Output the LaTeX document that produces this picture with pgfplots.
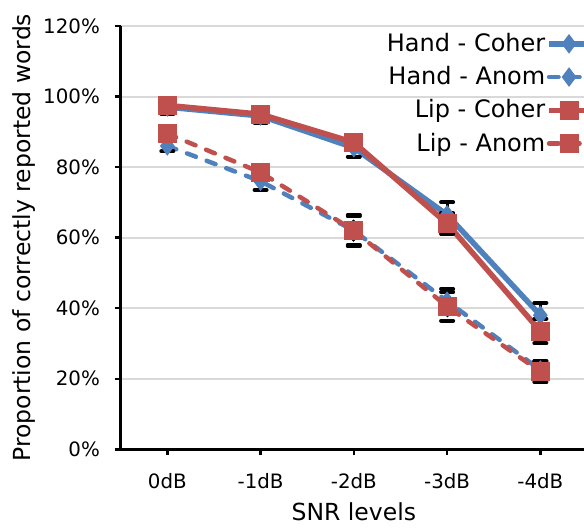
\documentclass[border=0pt]{standalone}
\usepackage{fontspec}
\setmainfont{DejaVu Sans}
\usepackage{pgfplots}
\pgfplotsset{compat=1.18}
\definecolor{hblue}{HTML}{4F81BD}
\definecolor{lred}{HTML}{C0504D}
\definecolor{gridgray}{HTML}{D9D9D9}
\begin{document}
\fontsize{20}{24}\selectfont
\begin{tikzpicture}
\begin{axis}[
  at={(0,0)}, anchor=south west,
  scale only axis, width=466.3pt, height=423.3pt,
  xmin=-0.5, xmax=4.5, ymin=0, ymax=120,
  xtick={0,1,2,3,4}, xticklabels={0dB,-1dB,-2dB,-3dB,-4dB},
  ytick={0,20,40,60,80,100,120},
  yticklabel={\pgfmathprintnumber{\tick}\%},
  /pgf/number format/assume math mode=true,
  axis x line=bottom, axis y line=left,
  axis line style={-, line width=2.5pt, black},
  tick style={line width=2.5pt, black},
  major tick length=6pt,
  tick align=outside,
  ymajorgrids, grid style={gridgray, line width=2pt},
  xlabel={SNR levels}, ylabel={Proportion of correctly reported words},
  tick label style={font=\fontsize{19.8}{23}\selectfont},
  yticklabel style={xshift=-8pt},
  xticklabel style={yshift=-11pt},
  label style={font=\fontsize{23.5}{28}\selectfont},
  xlabel style={at={(axis description cs:0.5,-0.148)}, anchor=center},
  ylabel style={at={(axis description cs:-0.2075,0.5)}, anchor=center},
  legend style={at={(axis description cs:1,1)}, anchor=north east, xshift=5pt, yshift=-5pt,
    draw=none, fill=none, inner sep=0pt, row sep=8pt, font=\fontsize{24}{28}\selectfont,
    nodes={inner xsep=1pt, inner ysep=2pt}},
  legend cell align=right,
  legend plot pos=right,
  legend image code/.code={\draw[mark repeat=2, mark phase=2, #1] plot coordinates {(0pt,0pt) (20pt,0pt) (40pt,0pt)};},
  error bars/y dir=both, error bars/y explicit,
  error bars/error bar style={black, line width=3pt},
  error bars/error mark options={rotate=90, black, line width=4pt, mark size=6pt, line cap=round},
  clip=false,
]
\addplot[hblue, line width=5.5pt, mark=diamond*, mark size=9pt, mark options={solid, line width=1pt}]
  table[x=x, y=y, y error=e] {
x y e
0 97 2
1 94.5 2
2 85.5 2.5
3 66.5 3.5
4 38 3.5
};
\addlegendentry{Hand - Coher}
\addplot[hblue, line width=4.5pt, line cap=round, dash pattern=on 9.5pt off 11.5pt, mark=diamond*, mark size=9pt, mark options={solid, line width=1pt}]
  table[x=x, y=y, y error=e] {
x y e
0 86 1.5
1 76 2.5
2 62 4
3 42 3.5
4 22.5 2.5
};
\addlegendentry{Hand - Anom}
\addplot[lred, line width=5.5pt, mark=square*, mark size=9pt, mark options={solid, line width=1pt}]
  table[x=x, y=y, y error=e] {
x y e
0 97.5 1
1 95 1
2 87 1.5
3 64 3
4 33.5 3.5
};
\addlegendentry{Lip - Coher}
\addplot[lred, line width=4.5pt, line cap=round, dash pattern=on 9.5pt off 11.5pt, mark=square*, mark size=9pt, mark options={solid, line width=1pt}]
  table[x=x, y=y, y error=e] {
x y e
0 89.5 1
1 78.5 1.5
2 62 4.5
3 40.5 4
4 22 3
};
\addlegendentry{Lip - Anom}
\end{axis}
\pgfresetboundingbox
\path[use as bounding box] (-120.7pt,-81.7pt) rectangle (463.3pt,449.3pt);
\end{tikzpicture}
\end{document}
